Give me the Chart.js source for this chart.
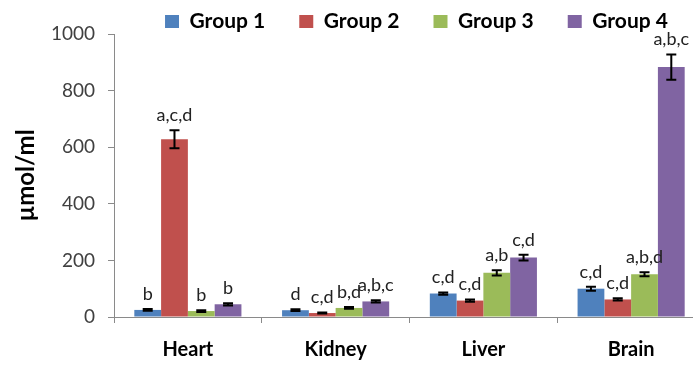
<!DOCTYPE html>
<html>
<head>
<meta charset="utf-8">
<script src="https://cdn.jsdelivr.net/npm/chart.js@4"></script>
<style>
  html, body { margin: 0; padding: 0; background: #fff; overflow: hidden; }
  #wrap { width: 705px; height: 365px; position: relative; }
</style>
</head>
<body>
<div id="wrap"><canvas id="c"></canvas></div>
<script>
// Tissue concentrations (µmol/ml) per group, with SE and significance letters
const categories = ['Heart', 'Kidney', 'Liver', 'Brain'];
const seriesNames = ['Group 1', 'Group 2', 'Group 3', 'Group 4'];

const group1 = [25, 24, 83, 100];
const group2 = [628, 14, 58, 62];
const group3 = [21, 32, 156, 151];
const group4 = [45, 55, 210, 883];

const group1Err = [3, 3, 4, 7];
const group2Err = [32, 2, 4, 4];
const group3Err = [3, 3, 9, 7];
const group4Err = [4, 4, 10, 45];

const group1Sig = ['b', 'd', 'c,d', 'c,d'];
const group2Sig = ['a,c,d', 'c,d', 'c,d', 'c,d'];
const group3Sig = ['b', 'b,d', 'a,b', 'a,b,d'];
const group4Sig = ['b', 'a,b,c', 'c,d', 'a,b,c'];

const yTicks = [0, 200, 400, 600, 800, 1000];

const colors = ['#4F81BD', '#C0504D', '#9BBB59', '#8064A2'];

const values = [group1, group2, group3, group4];
const errors = [group1Err, group2Err, group3Err, group4Err];
const sigs = [group1Sig, group2Sig, group3Sig, group4Sig];

const datasets = seriesNames.map((name, i) => ({
  label: name,
  data: values[i],
  errors: errors[i],
  sig: sigs[i],
  backgroundColor: colors[i],
  borderWidth: 0,
  barPercentage: 1.0,
  categoryPercentage: 0.725
}));

// Error bars with caps, plus the significance letters above them
const errorBars = {
  id: 'errorBars',
  afterDatasetsDraw(chart) {
    const ctx = chart.ctx;
    const y = chart.scales.y;
    chart.data.datasets.forEach((ds, i) => {
      const meta = chart.getDatasetMeta(i);
      meta.data.forEach((bar, j) => {
        const v = ds.data[j];
        const e = ds.errors[j];
        const yHi = y.getPixelForValue(v + e);
        const yLo = y.getPixelForValue(v - e);
        ctx.save();
        ctx.strokeStyle = '#000';
        ctx.lineWidth = 2;
        ctx.beginPath();
        ctx.moveTo(bar.x, yHi); ctx.lineTo(bar.x, yLo);
        ctx.moveTo(bar.x - 5, yHi); ctx.lineTo(bar.x + 5, yHi);
        ctx.moveTo(bar.x - 5, yLo); ctx.lineTo(bar.x + 5, yLo);
        ctx.stroke();
        ctx.font = '18px Lato';
        ctx.fillStyle = '#222';
        ctx.textAlign = 'center';
        ctx.textBaseline = 'alphabetic';
        ctx.fillText(ds.sig[j], bar.x, yHi - 9);
        ctx.restore();
      });
    });
  }
};

// Moves the legend row to its place above the plot
const legendPlace = {
  id: 'legendPlace',
  afterLayout(chart) {
    const l = chart.legend;
    if (!l) return;
    l.left += 64; l.right += 64;
    l.top -= 23;
  }
};

new Chart(document.getElementById('c'), {
  type: 'bar',
  data: { labels: categories, datasets },
  plugins: [errorBars, legendPlace],
  options: {
    responsive: true,
    maintainAspectRatio: false,
    animation: false,
    layout: { padding: 0 },
    plugins: {
      tooltip: { enabled: false },
      legend: {
        position: 'top',
        maxHeight: 34,
        labels: {
          boxWidth: 14,
          boxHeight: 13,
          padding: 34,
          color: '#000',
          font: { family: 'Lato', size: 21, weight: 'bold' }
        }
      }
    },
    scales: {
      x: {
        afterFit(scale) { scale.height = 48; },
        grid: {
          display: true,
          offset: true,
          drawOnChartArea: false,
          drawTicks: true,
          tickLength: 6,
          color: '#8a8a8a'
        },
        border: { display: true, color: '#8a8a8a', width: 1 },
        ticks: {
          padding: 15,
          color: '#000',
          font: { family: 'Lato', size: 20, weight: 'bold' }
        }
      },
      y: {
        min: 0,
        max: 1000,
        afterFit(scale) { scale.width = 114; },
        afterBuildTicks(scale) { scale.ticks = yTicks.map(v => ({ value: v })); },
        grid: {
          display: true,
          drawOnChartArea: false,
          drawTicks: true,
          tickLength: 6,
          color: '#8a8a8a'
        },
        border: { display: true, color: '#8a8a8a', width: 1 },
        ticks: {
          padding: 13,
          color: '#404040',
          font: { family: 'Lato', size: 19 },
          callback: (v) => String(v)
        },
        title: {
          display: true,
          text: 'µmol/ml',
          color: '#000',
          padding: { top: 12, bottom: 0 },
          font: { family: 'Lato', size: 24, weight: 'bold' }
        }
      }
    }
  }
});
</script>
</body>
</html>
